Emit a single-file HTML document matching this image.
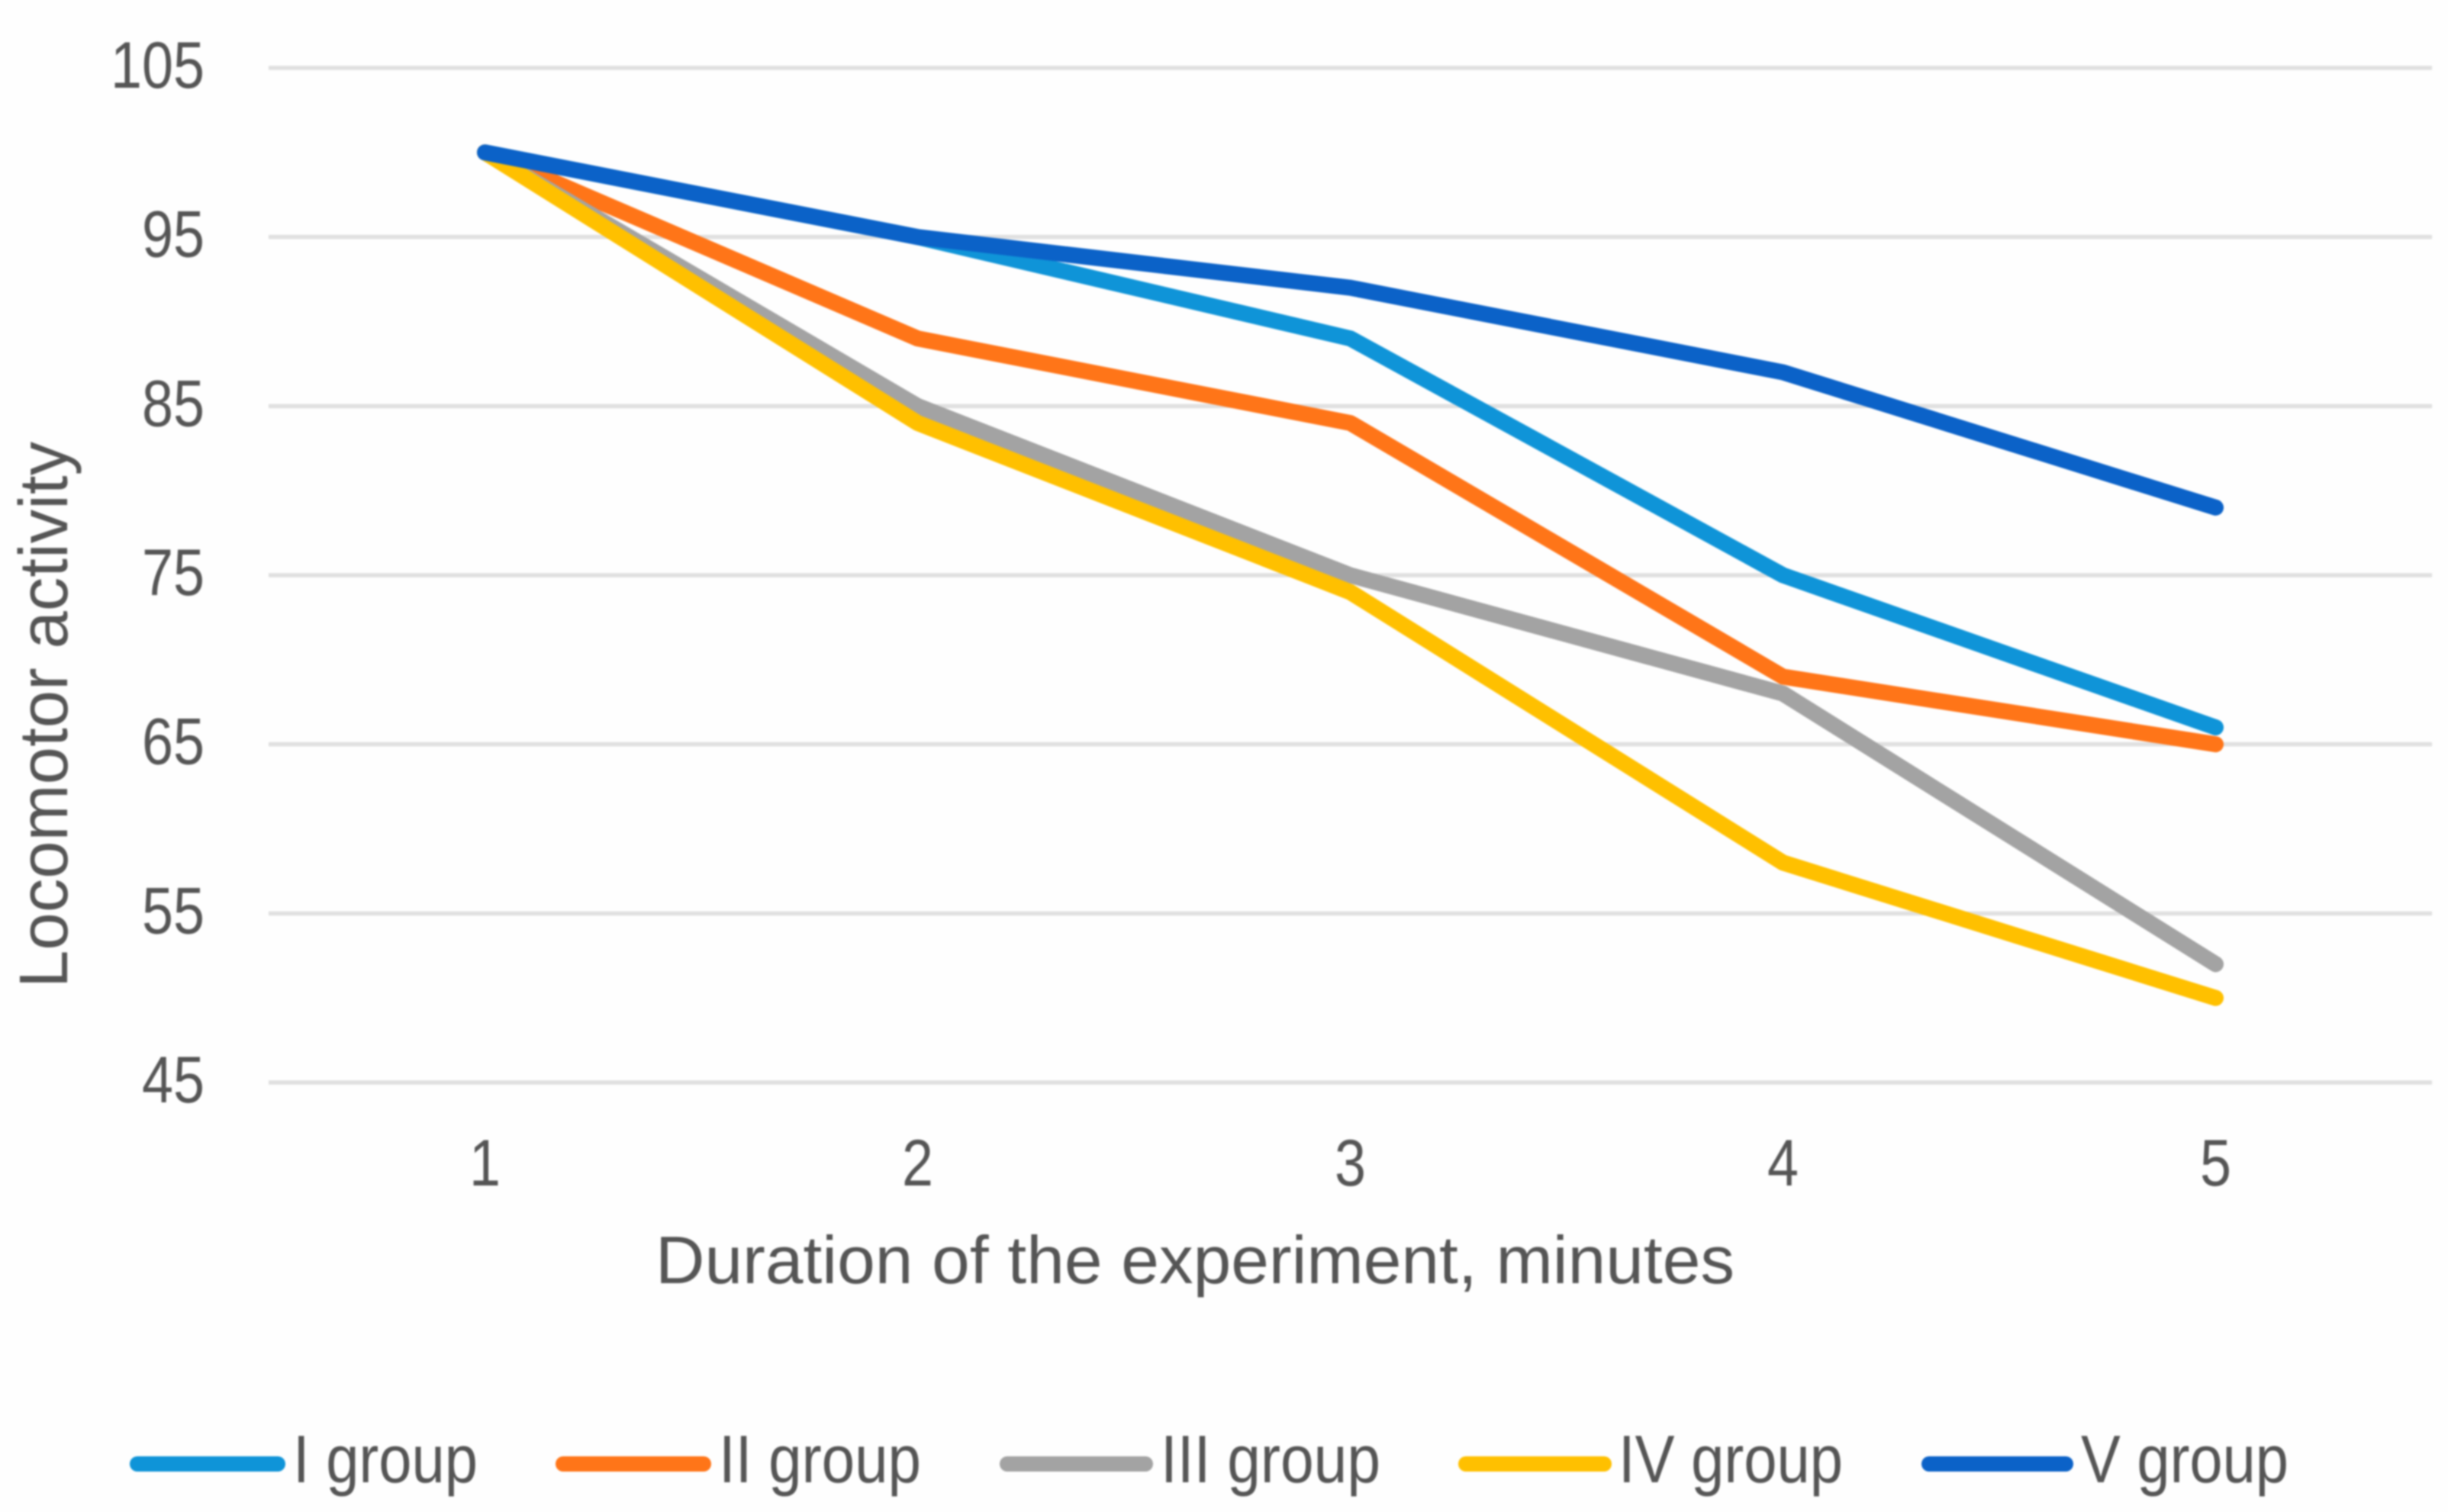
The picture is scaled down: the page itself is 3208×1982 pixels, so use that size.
<!DOCTYPE html>
<html lang="en">
<head>
<meta charset="utf-8">
<title>Locomotor activity chart</title>
<style>
  html, body { margin: 0; padding: 0; background: #fefefe; }
  svg { display: block; filter: blur(1px); }
  text { font-family: "Liberation Sans", sans-serif; fill: #555555; }
</style>
</head>
<body>
<svg id="chart" xmlns="http://www.w3.org/2000/svg" width="3208" height="1982" viewBox="0 0 3208 1982">
  <rect x="0" y="0" width="3208" height="1982" fill="#fefefe"></rect>
  <g id="grid"></g>
  <g id="yticks"></g>
  <g id="xticks"></g>
  <g id="lines"></g>
  <text transform="translate(88,937) rotate(-90)" text-anchor="middle" font-size="90" textLength="716" lengthAdjust="spacingAndGlyphs">Locomotor activity</text>
  <text x="1566" y="1682" text-anchor="middle" font-size="88" textLength="1414" lengthAdjust="spacingAndGlyphs">Duration of the experiment, minutes</text>
  <g id="legend">
    <g>
      <line x1="180" y1="1919" x2="364" y2="1919" stroke="#0f94d8" stroke-width="20" stroke-linecap="round"></line>
      <text x="384" y="1943" font-size="88" textLength="242" lengthAdjust="spacingAndGlyphs">I group</text>
    </g>
    <g>
      <line x1="738" y1="1919" x2="922" y2="1919" stroke="#ff7518" stroke-width="20" stroke-linecap="round"></line>
      <text x="942" y="1943" font-size="88" textLength="265" lengthAdjust="spacingAndGlyphs">II group</text>
    </g>
    <g>
      <line x1="1320" y1="1919" x2="1501" y2="1919" stroke="#a3a3a3" stroke-width="20" stroke-linecap="round"></line>
      <text x="1521" y="1943" font-size="88" textLength="288" lengthAdjust="spacingAndGlyphs">III group</text>
    </g>
    <g>
      <line x1="1921" y1="1919" x2="2102" y2="1919" stroke="#ffc000" stroke-width="20" stroke-linecap="round"></line>
      <text x="2121" y="1943" font-size="88" textLength="294" lengthAdjust="spacingAndGlyphs">IV group</text>
    </g>
    <g>
      <line x1="2528" y1="1919" x2="2707" y2="1919" stroke="#0b62c8" stroke-width="20" stroke-linecap="round"></line>
      <text x="2727" y="1943" font-size="88" textLength="272" lengthAdjust="spacingAndGlyphs">V group</text>
    </g>
  </g>
</svg>
<script>
const categories = ["1", "2", "3", "4", "5"];
const yTickLabels = [105, 95, 85, 75, 65, 55, 45];
const groupI = [100, 95, 89, 75, 66];
const groupII = [100, 89, 84, 69, 65];
const groupIII = [100, 85, 75, 68, 52];
const groupIV = [100, 84, 74, 58, 50];
const groupV = [100, 95, 92, 87, 79];

const NS = 'http://www.w3.org/2000/svg';
const plotLeft = 352, plotRight = 3187, plotTop = 89, plotBottom = 1419;
const yMax = 105, yMin = 45;

function xScale(i) {
  const band = (plotRight - plotLeft) / categories.length;
  return plotLeft + band * (i + 0.5);
}
function yScale(v) {
  return plotTop + (yMax - v) * (plotBottom - plotTop) / (yMax - yMin);
}

const gridGroup = document.getElementById('grid');
const yTickGroup = document.getElementById('yticks');
yTickLabels.forEach(function (tick) {
  const line = document.createElementNS(NS, 'line');
  
  
  line.setAttribute('x1', plotLeft);
  line.setAttribute('x2', plotRight);
  line.setAttribute('y1', yScale(tick));
  line.setAttribute('y2', yScale(tick));
  line.setAttribute('stroke', '#e0e0e0');
  line.setAttribute('stroke-width', '5.5');
  gridGroup.appendChild(line);

  const label = document.createElementNS(NS, 'text');
  
  
  label.setAttribute('x', 268);
  label.setAttribute('y', yScale(tick) + 26);
  label.setAttribute('text-anchor', 'end');
  label.setAttribute('font-size', '86');
  label.setAttribute('textLength', String(tick).length * 41);
  label.setAttribute('lengthAdjust', 'spacingAndGlyphs');
  label.textContent = tick;
  yTickGroup.appendChild(label);
});

const xTickGroup = document.getElementById('xticks');
categories.forEach(function (cat, i) {
  const label = document.createElementNS(NS, 'text');
  
  
  label.setAttribute('x', xScale(i));
  label.setAttribute('y', 1554);
  label.setAttribute('text-anchor', 'middle');
  label.setAttribute('font-size', '86');
  label.setAttribute('textLength', 41);
  label.setAttribute('lengthAdjust', 'spacingAndGlyphs');
  label.textContent = cat;
  xTickGroup.appendChild(label);
});

const lineGroup = document.getElementById('lines');
function drawSeries(values, color, name) {
  const path = document.createElementNS(NS, 'polyline');
  
  
  path.setAttribute('points', values.map(function (v, i) {
    return xScale(i) + ',' + yScale(v);
  }).join(' '));
  path.setAttribute('fill', 'none');
  path.setAttribute('stroke', color);
  path.setAttribute('stroke-width', '21');
  path.setAttribute('stroke-linecap', 'round');
  path.setAttribute('stroke-linejoin', 'round');
  lineGroup.appendChild(path);
}
drawSeries(groupI, '#0f94d8', 'line-i-group');
drawSeries(groupII, '#ff7518', 'line-ii-group');
drawSeries(groupIII, '#a3a3a3', 'line-iii-group');
drawSeries(groupIV, '#ffc000', 'line-iv-group');
drawSeries(groupV, '#0b62c8', 'line-v-group');
</script>
</body>
</html>
